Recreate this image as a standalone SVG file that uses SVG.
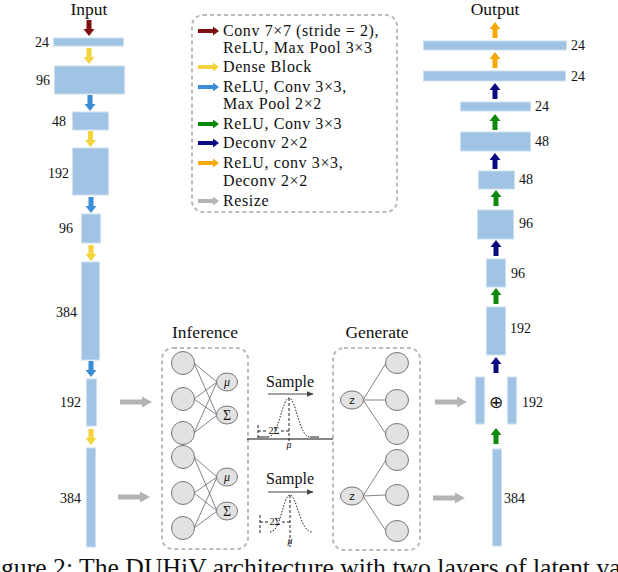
<svg xmlns="http://www.w3.org/2000/svg" xmlns:xlink="http://www.w3.org/1999/xlink" width="618" height="572" viewBox="0 0 618 572">
<style>
text{font-family:"Liberation Serif","Times New Roman",serif;fill:#111}
.t{font-size:17.5px}
.lg{font-size:16px;letter-spacing:0.6px}
.lb{font-size:14px}
.box{fill:#a1c4e4;stroke:#cde0f2;stroke-width:1}
.dash{fill:none;stroke:#bbb;stroke-width:2;stroke-dasharray:4 3}
.nd{fill:#e2e2e2;stroke:#777;stroke-width:1}
.ln{stroke:#666;stroke-width:0.8;fill:none}
.red{fill:#7e1010}.yel{fill:#f4d43c}.blu{fill:#3c8dd8}.grn{fill:#0b8a0b}.nav{fill:#0a0a82}.org{fill:#f7a90a}.gry{fill:#b4b4b4}
.gs{fill:none;stroke:#222;stroke-width:1;stroke-dasharray:1.5 1.5}
.gd{fill:none;stroke:#222;stroke-width:1;stroke-dasharray:3 2}
.sm{font-size:10px;font-style:italic}
.mu{font-size:12px;font-style:italic}
.sg{font-size:14px}
</style>
<defs>
<path id="ad" d="M-2.5,0 H2.5 V9 H5.5 L0,16 L-5.5,9 H-2.5 Z"/>
<path id="au" d="M-2.5,16 H2.5 V7 H5.5 L0,0 L-5.5,7 H-2.5 Z"/>
<path id="ar" d="M0,-2 H15 V-4.5 L21,0 L15,4.5 V2 H0 Z"/>
<path id="ag" d="M0,-2.5 H22 V-5.5 L32,0 L22,5.5 V2.5 H0 Z"/>
<marker id="mh" viewBox="0 0 10 10" refX="9" refY="5" markerWidth="7" markerHeight="7" orient="auto" markerUnits="userSpaceOnUse"><path d="M0,1 L10,5 L0,9 Z" fill="#444"/></marker>
</defs>

<!-- legend -->
<g id="legend">
<rect x="192" y="15" width="205" height="197" rx="11" class="dash"/>
<use xlink:href="#ar" x="198" y="31" class="red"/>
<text class="lg" x="223" y="36">Conv 7×7 (stride = 2),</text>
<text class="lg" x="223" y="53">ReLU, Max Pool 3×3</text>
<use xlink:href="#ar" x="198" y="67" class="yel"/>
<text class="lg" x="223" y="72">Dense Block</text>
<use xlink:href="#ar" x="198" y="87" class="blu"/>
<text class="lg" x="223" y="92">ReLU, Conv 3×3,</text>
<text class="lg" x="223" y="109">Max Pool 2×2</text>
<use xlink:href="#ar" x="198" y="124" class="grn"/>
<text class="lg" x="223" y="129">ReLU, Conv 3×3</text>
<use xlink:href="#ar" x="198" y="143" class="nav"/>
<text class="lg" x="223" y="148">Deconv 2×2</text>
<use xlink:href="#ar" x="198" y="163" class="org"/>
<text class="lg" x="223" y="168">ReLU, conv 3×3,</text>
<text class="lg" x="223" y="186">Deconv 2×2</text>
<use xlink:href="#ar" x="198" y="201" class="gry"/>
<text class="lg" x="223" y="206">Resize</text>
</g>

<!-- encoder -->
<g id="encoder">
<text class="t" x="89" y="15" text-anchor="middle">Input</text>
<g id="e1"><rect class="box" x="53.5" y="38" width="70" height="8"/><text class="lb" x="49" y="47" text-anchor="end">24</text></g>
<g id="e2"><rect class="box" x="54.5" y="66" width="70" height="28"/><text class="lb" x="50" y="85" text-anchor="end">96</text></g>
<g id="e3"><rect class="box" x="72.5" y="112" width="36" height="18"/><text class="lb" x="66" y="126" text-anchor="end">48</text></g>
<g id="e4"><rect class="box" x="72.5" y="148" width="36" height="47"/><text class="lb" x="69" y="178" text-anchor="end">192</text></g>
<g id="e5"><rect class="box" x="81.5" y="214" width="19" height="29"/><text class="lb" x="73" y="233" text-anchor="end">96</text></g>
<g id="e6"><rect class="box" x="81.5" y="262" width="18" height="98"/><text class="lb" x="77" y="317" text-anchor="end">384</text></g>
<g id="e7"><rect class="box" x="86.5" y="379" width="10" height="47"/><text class="lb" x="81" y="407" text-anchor="end">192</text></g>
<g id="e8"><rect class="box" x="86.5" y="448" width="9" height="99"/><text class="lb" x="81" y="503" text-anchor="end">384</text></g>
</g>

<!-- decoder -->
<g id="decoder">
<text class="t" x="495" y="15" text-anchor="middle">Output</text>
<g id="d1"><rect class="box" x="423.5" y="41" width="143" height="9"/><text class="lb" x="571" y="50">24</text></g>
<g id="d2"><rect class="box" x="423.5" y="71" width="142" height="10"/><text class="lb" x="571" y="81">24</text></g>
<g id="d3"><rect class="box" x="460.5" y="102" width="70" height="9"/><text class="lb" x="535" y="111">24</text></g>
<g id="d4"><rect class="box" x="460.5" y="132" width="70" height="19"/><text class="lb" x="535" y="146">48</text></g>
<g id="d5"><rect class="box" x="478.5" y="171" width="36" height="18"/><text class="lb" x="519" y="184">48</text></g>
<g id="d6"><rect class="box" x="477.5" y="210" width="36" height="29"/><text class="lb" x="519" y="228">96</text></g>
<g id="d7"><rect class="box" x="486.5" y="259" width="19" height="28"/><text class="lb" x="511" y="278">96</text></g>
<g id="d8"><rect class="box" x="486.5" y="307" width="19" height="48"/><text class="lb" x="510" y="333">192</text></g>
<g id="d9"><rect class="box" x="475.5" y="377" width="9" height="47"/><rect class="box" x="507.5" y="377" width="9" height="47"/>
<text x="496" y="408" text-anchor="middle" style="font-family:'DejaVu Sans',sans-serif;font-size:17px">⊕</text>
<text class="lb" x="522" y="407">192</text></g>
<g id="d10"><rect class="box" x="492.5" y="449" width="9" height="97"/><text class="lb" x="504" y="503">384</text></g>
</g>

<!-- inference -->
<g id="inference">
<text class="t" x="205" y="338" text-anchor="middle">Inference</text>
<rect x="162" y="348" width="86" height="201" rx="11" class="dash"/>
<g class="ln">
<path d="M194,363 L217,382 M194,363 L217,415 M194,399 L217,382 M194,399 L217,415 M194,433 L217,382 M194,433 L217,415"/>
<path d="M194,457 L217,477 M194,457 L217,511 M194,493 L217,477 M194,493 L217,511 M194,528 L217,477 M194,528 L217,511"/>
</g>
<circle class="nd" cx="183" cy="363" r="11.5"/>
<circle class="nd" cx="183" cy="399" r="11.5"/>
<circle class="nd" cx="183" cy="433" r="11.5"/>
<circle class="nd" cx="183" cy="457" r="11.5"/>
<circle class="nd" cx="183" cy="493" r="11.5"/>
<circle class="nd" cx="183" cy="528" r="11.5"/>
<ellipse class="nd" cx="227" cy="382" rx="10.5" ry="9"/>
<ellipse class="nd" cx="227" cy="415" rx="10.5" ry="9"/>
<ellipse class="nd" cx="227" cy="477" rx="10.5" ry="9"/>
<ellipse class="nd" cx="227" cy="511" rx="10.5" ry="9"/>
<text class="mu" x="227" y="386" text-anchor="middle">μ</text>
<text class="sg" x="227" y="420" text-anchor="middle">Σ</text>
<text class="mu" x="227" y="481" text-anchor="middle">μ</text>
<text class="sg" x="227" y="516" text-anchor="middle">Σ</text>
</g>

<!-- sampling -->
<g id="sample1">
<text x="290" y="387" text-anchor="middle" style="font-size:16px">Sample</text>
<line x1="268" y1="394" x2="313" y2="394" stroke="#444" stroke-width="1" marker-end="url(#mh)"/>
<path class="gs" d="M268,437 C279,437 282,398 289,398 C296,398 299,437 310,437"/>
<path d="M258,437 H268 M310,437 H319" stroke="#222" stroke-width="1"/>
<path class="gd" d="M289,398 V444 M258,425 V440 M258,431 H267 M281,431 H289"/>
<text class="sm" x="274" y="434" text-anchor="middle" style="font-style:normal">2Σ</text>
<text class="sm" x="289" y="448" text-anchor="middle">μ</text>
</g>
<g id="sample2">
<text x="290" y="484" text-anchor="middle" style="font-size:16px">Sample</text>
<line x1="268" y1="492" x2="313" y2="492" stroke="#444" stroke-width="1" marker-end="url(#mh)"/>
<path class="gs" d="M270,532 C281,532 283,495 290,495 C297,495 300,532 312,532"/>
<path class="gd" d="M290,495 V547 M260,515 V533 M260,522 H268 M282,522 H290"/>
<text class="sm" x="275" y="525" text-anchor="middle" style="font-style:normal">2Σ</text>
<text class="sm" x="290" y="544" text-anchor="middle">μ</text>
</g>

<!-- generate -->
<g id="generate">
<text class="t" x="377" y="338" text-anchor="middle">Generate</text>
<rect x="333" y="348" width="87" height="202" rx="11" class="dash"/>
<g class="ln">
<path d="M363,400 L386,363 M363,400 L386,400 M363,400 L386,434"/>
<path d="M363,496 L386,460 M363,496 L386,495 M363,496 L386,531"/>
</g>
<ellipse class="nd" cx="352" cy="400" rx="11.5" ry="9"/>
<ellipse class="nd" cx="352" cy="496" rx="11.5" ry="9"/>
<text x="352" y="404" text-anchor="middle" style="font-size:11px;font-family:'Liberation Mono',monospace">z</text>
<text x="352" y="500" text-anchor="middle" style="font-size:11px;font-family:'Liberation Mono',monospace">z</text>
<ellipse class="nd" cx="397" cy="363" rx="11.5" ry="10.5"/>
<ellipse class="nd" cx="397" cy="400" rx="11.5" ry="10.5"/>
<ellipse class="nd" cx="397" cy="434" rx="11.5" ry="10.5"/>
<ellipse class="nd" cx="397" cy="460" rx="11.5" ry="10.5"/>
<ellipse class="nd" cx="397" cy="495" rx="11.5" ry="10.5"/>
<ellipse class="nd" cx="397" cy="531" rx="11.5" ry="10.5"/>
</g>

<!-- connectors -->
<g id="connectors">
<use xlink:href="#ad" x="89" y="20" class="red"/>
<use xlink:href="#ad" x="89" y="48" class="yel"/>
<use xlink:href="#ad" x="90" y="95" class="blu"/>
<use xlink:href="#ad" x="90.5" y="131" class="yel"/>
<use xlink:href="#ad" x="91" y="197" class="blu"/>
<use xlink:href="#ad" x="91" y="245" class="yel"/>
<use xlink:href="#ad" x="91" y="361" class="blu"/>
<use xlink:href="#ad" x="91" y="429" class="yel"/>
<use xlink:href="#au" x="495" y="22" class="org"/>
<use xlink:href="#au" x="495" y="52" class="org"/>
<use xlink:href="#au" x="495" y="83" class="nav"/>
<use xlink:href="#au" x="495" y="114" class="grn"/>
<use xlink:href="#au" x="495" y="153" class="nav"/>
<use xlink:href="#au" x="496" y="190" class="grn"/>
<use xlink:href="#au" x="496" y="240" class="nav"/>
<use xlink:href="#au" x="496" y="288" class="grn"/>
<use xlink:href="#au" x="496" y="357" class="nav"/>
<use xlink:href="#au" x="496" y="428" class="grn"/>
<use xlink:href="#ag" x="120" y="402" class="gry"/>
<use xlink:href="#ag" x="118" y="497" class="gry"/>
<use xlink:href="#ag" x="435" y="402" class="gry"/>
<use xlink:href="#ag" x="433" y="498" class="gry"/>
<line x1="247" y1="439" x2="333" y2="439" stroke="#111" stroke-width="1.2"/>
</g>

<text x="1" y="576" style="font-size:25.7px">gure 2: The DUHiV architecture with two layers of latent va</text>
</svg>
